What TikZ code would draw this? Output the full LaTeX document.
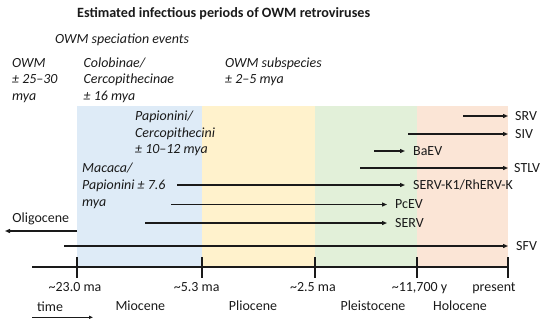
\documentclass[tikz,border=0pt]{standalone}
\usepackage{fontspec}
\setmainfont{Carlito}
\usetikzlibrary{arrows.meta}
\definecolor{bandblue}{HTML}{DEEBF7}
\definecolor{bandyellow}{HTML}{FFF2CC}
\definecolor{bandgreen}{HTML}{E2F0D9}
\definecolor{bandorange}{HTML}{FBE5D6}
\definecolor{ink}{HTML}{1A1A1A}
\tikzset{
  txt/.style={inner sep=0pt, anchor=base west, font=\fontsize{14}{16}\selectfont, text=ink},
  itxt/.style={txt, font=\fontsize{14}{16}\selectfont\itshape},
  ctxt/.style={txt, anchor=base},
  lab/.style={inner sep=0pt, anchor=west, font=\fontsize{14}{16}\selectfont, text=ink},
  arr/.style={draw=ink, line width=1.3bp, -{Triangle[length=5bp,width=4bp]}, shorten >=7.5bp},
  axisline/.style={draw=ink, line width=1.4bp},
}
\begin{document}
\begin{tikzpicture}[x=1bp,y=-1bp]
\useasboundingbox (0,0) rectangle (550,325);
% bands
\fill[bandblue]   (77,106) rectangle (202,267);
\fill[bandyellow] (202,106) rectangle (315,267);
\fill[bandgreen]  (315,106) rectangle (417,267);
\fill[bandorange] (417,106) rectangle (508,267);
% titles
\node[txt, font=\fontsize{14.2}{16}\selectfont\bfseries] (title) at (77,17) {Estimated infectious periods of OWM retroviruses};
\node[itxt] (spec) at (55,43.5) {OWM speciation events};
% speciation texts
\node[itxt] (owm1) at (12,67) {OWM};
\node[itxt] (owm2) at (12,83.5) {± 25–30};
\node[itxt] (owm3) at (12,100) {mya};
\node[itxt] (col1) at (83.5,67) {Colobinae/};
\node[itxt] (col2) at (83.5,83.5) {Cercopithecinae};
\node[itxt] (col3) at (83.5,100) {± 16 mya};
\node[itxt] (sub1) at (225,67) {OWM subspecies};
\node[itxt] (sub2) at (225,83.5) {± 2–5 mya};
\node[itxt] (pap1) at (135,120.5) {Papionini/};
\node[itxt] (pap2) at (135,137) {Cercopithecini};
\node[itxt] (pap3) at (135,153.5) {± 10–12 mya};
\node[itxt] (mac1) at (82,172.5) {Macaca/};
\node[itxt] (mac2) at (82,189.5) {Papionini ± 7.6};
\node[itxt] (mac3) at (82,206) {mya};
% virus labels
\node[lab] (srv)  at (515,116) {SRV};
\node[lab] (siv)  at (515,134) {SIV};
\node[lab] (baev) at (413,151) {BaEV};
\node[lab] (stlv) at (514,168) {STLV};
\node[lab] (serk) at (413,185) {SERV-K1/RhERV-K};
\node[lab] (pcev) at (395,204.5) {PcEV};
\node[lab] (serv) at (395,223) {SERV};
\node[lab] (sfv)  at (516,246) {SFV};
% start points
\coordinate (srv0)  at (463,116);
\coordinate (siv0)  at (408,134);
\coordinate (baev0) at (374,151);
\coordinate (stlv0) at (360,168);
\coordinate (serk0) at (177,185);
\coordinate (pcev0) at (171,204.5);
\coordinate (serv0) at (145,223);
\coordinate (sfv0)  at (64,246);
\draw[arr, shorten >=7bp] (srv0) -- (srv.west);
\draw[arr, shorten >=7bp] (siv0) -- (siv.west);
\draw[arr, shorten >=8bp] (baev0) -- (baev.west);
\draw[arr, shorten >=6bp] (stlv0) -- (stlv.west);
\draw[arr, shorten >=8bp] (serk0) -- (serk.west);
\draw[arr, shorten >=8bp] (pcev0) -- (pcev.west);
\draw[arr, shorten >=8bp] (serv0) -- (serv.west);
\draw[arr, shorten >=8bp] (sfv0) -- (sfv.west);
% oligocene
\node[txt] (oligo) at (12.3,222.7) {Oligocene};
\coordinate (oligoA) at (77,231);
\coordinate (oligoB) at (5,231);
\draw[arr, shorten >=0pt] (oligoA) -- (oligoB);
% axis
\coordinate (ax0) at (32,267);
\coordinate (ax1) at (508,267);
\draw[axisline] (ax0) -- (ax1);
\foreach \x in {77,202,315,417,508} \draw[axisline] (\x,257) -- (\x,278);
% tick labels
\node[ctxt] (t1) at (75,291.7) {\textasciitilde23.0 ma};
\node[ctxt] (t2) at (196.7,291.7) {\textasciitilde5.3 ma};
\node[ctxt] (t3) at (313,291.7) {\textasciitilde2.5 ma};
\node[ctxt] (t4) at (419.5,291.7) {\textasciitilde11,700 y};
\node[ctxt] (t5) at (494,291.7) {present};
% epochs
\node[ctxt] (e1) at (140.3,310) {Miocene};
\node[ctxt] (e2) at (253,310) {Pliocene};
\node[ctxt] (e3) at (373,310) {Pleistocene};
\node[ctxt] (e4) at (460,310) {Holocene};
% time
\node[txt] (time) at (37,311.7) {time};
\coordinate (tA) at (32,317.3);
\coordinate (tB) at (93,317.3);
\draw[ink, line width=1bp, -{Triangle[length=4bp,width=3bp]}] (tA) -- (tB);
\end{tikzpicture}
\end{document}
